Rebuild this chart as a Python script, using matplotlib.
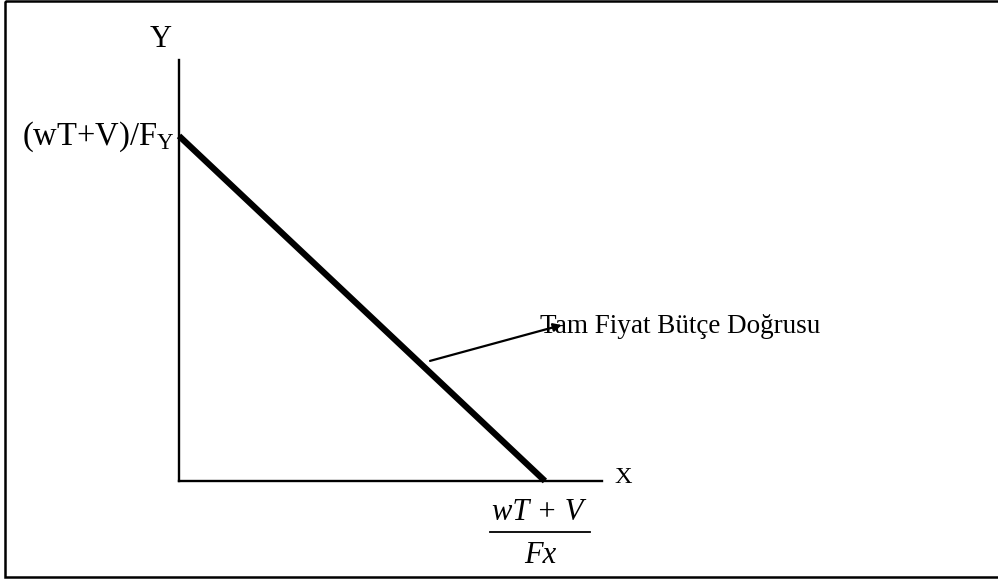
import matplotlib
matplotlib.use("Agg")
import matplotlib.pyplot as plt
from matplotlib.patches import Rectangle

plt.rcParams['font.family'] = ['Liberation Serif', 'DejaVu Serif']
plt.rcParams['mathtext.fontset'] = 'custom'
plt.rcParams['mathtext.rm'] = 'Liberation Serif'
plt.rcParams['mathtext.it'] = 'Liberation Serif:italic'

# Data (abstract units)
budget_x = [0, 10]      # X intercept = (wT+V)/Fx
budget_y = [10, 0]      # Y intercept = (wT+V)/F_Y
x_axis_max = 11.56
y_axis_max = 12.2
arrow_tail = (6.86, 3.48)
arrow_tip = (10.46, 4.52)
label_pos = (9.86, 4.30)

y_label = "Y"
x_label = "X"
y_int_label = r"(wT+V)/F$_{\mathrm{Y}}$"
x_int_num = "wT + V"
x_int_den = "Fx"
line_label = "Tam Fiyat Bütçe Doğrusu"

W, H = 998, 580
fig = plt.figure(figsize=(W / 100, H / 100), dpi=100)

# Pixel overlay for frame and labels
ov = fig.add_axes([0, 0, 1, 1])
ov.set_xlim(0, W)
ov.set_ylim(H, 0)
ov.axis('off')
ov.add_patch(Rectangle((5, 1), 1000, 576, fill=False, lw=1.8, ec='black', clip_on=False))

# Data axes
ox, oy = 179, 481
ex, ey = 602, 60
ax = fig.add_axes([ox / W, (H - oy) / H, (ex - ox) / W, (oy - ey) / H])
ax.set_xlim(0, x_axis_max)
ax.set_ylim(0, y_axis_max)
ax.patch.set_alpha(0)
for s in ['top', 'right']:
    ax.spines[s].set_visible(False)
for s in ['left', 'bottom']:
    ax.spines[s].set_linewidth(1.7)
ax.set_xticks([])
ax.set_yticks([])

ax.plot(budget_x, budget_y, color='black', lw=4.5, solid_capstyle='butt', clip_on=False)
ax.annotate('', xy=arrow_tip, xytext=arrow_tail,
            arrowprops=dict(arrowstyle='-|>', color='black', lw=1.6,
                            mutation_scale=12, shrinkA=0, shrinkB=0))
ax.text(label_pos[0], label_pos[1], line_label, fontsize=19.5, ha='left', va='baseline')

ov.text(161, 47, y_label, fontsize=22, ha='center', va='baseline')
ov.text(623, 483, x_label, fontsize=17.5, ha='center', va='baseline')
ov.text(175, 145, y_int_label, fontsize=23.5, ha='right', va='baseline')

# Fraction label for X intercept
ov.text(538, 520, x_int_num, fontsize=22, ha='center', va='baseline', style='italic')
ov.plot([490, 590], [532, 532], color='black', lw=1.3)
ov.text(540, 563, x_int_den, fontsize=22, ha='center', va='baseline', style='italic')

fig.savefig('out.png', dpi=100)
